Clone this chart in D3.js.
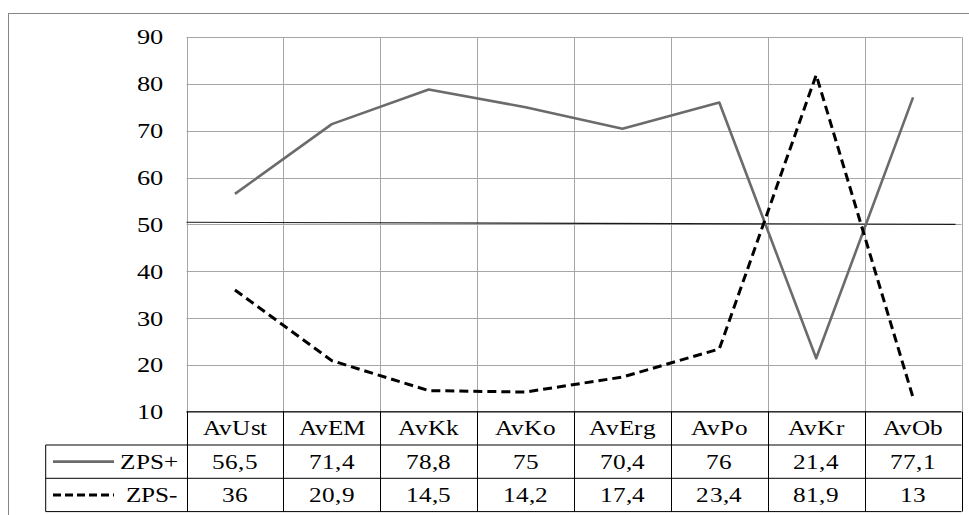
<!DOCTYPE html>
<html>
<head>
<meta charset="utf-8">
<script src="https://cdn.jsdelivr.net/npm/d3@7"></script>
<style>
  @font-face { font-family: "ChartSerif"; src: local("Liberation Serif"), local("LiberationSerif"), local("LiberationSerif-Regular"); }
</style>
</head>
<body style="margin:0">
<svg id="chart" width="969" height="515" font-family="ChartSerif, Liberation Serif"></svg>
<script>
const categories = ["AvUst", "AvEM", "AvKk", "AvKo", "AvErg", "AvPo", "AvKr", "AvOb"];
const seriesNames = ["ZPS+", "ZPS-"];
const zpsPlus = [56.5, 71.4, 78.8, 75, 70.4, 76, 21.4, 77.1];
const zpsMinus = [36, 20.9, 14.5, 14.2, 17.4, 23.4, 81.9, 13];
const yTicks = [10, 20, 30, 40, 50, 60, 70, 80, 90];
const refLineValues = [50.45, 50.0];

const FONT = "ChartSerif, Liberation Serif";
const SX = 1.2; // horizontal stretch of the text, as in the reference
const svg = d3.select("#chart").style("display", "block");
const W = 969, H = 515;
const plot = { left: 186.5, right: 961.5, top: 37, bottom: 411.7 };
const rowH = 33.3;
const legendLeft = 45.7;

svg.append("rect").attr("x", 8.5).attr("y", 13.5).attr("width", W + 10).attr("height", H + 10)
  .attr("fill", "none").attr("stroke", "#868686").attr("stroke-width", 1);

const x = d3.scaleBand().domain(categories).range([plot.left, plot.right]).padding(0);
const y = d3.scaleLinear().domain([10, 90]).range([plot.bottom, plot.top]);

const bounds = categories.map(c => x(c)).concat([plot.right]);
svg.selectAll("line.h").data(yTicks).join("line").attr("class", "h")
  .attr("x1", plot.left).attr("x2", plot.right)
  .attr("y1", d => Math.round(y(d)) + 0.5).attr("y2", d => Math.round(y(d)) + 0.5)
  .attr("stroke", "#a6a6a6").attr("stroke-width", 1);
svg.selectAll("line.v").data(bounds).join("line").attr("class", "v")
  .attr("x1", d => Math.round(d) + 0.5).attr("x2", d => Math.round(d) + 0.5)
  .attr("y1", plot.top).attr("y2", plot.bottom)
  .attr("stroke", "#a6a6a6").attr("stroke-width", 1);

function txt(sel, size) {
  return sel.attr("font-size", size).attr("fill", "#000")
    .attr("font-family", FONT).style("font-family", FONT);
}

txt(svg.selectAll("text.ytick").data(yTicks).join("text").attr("class", "ytick")
  .attr("transform", d => `translate(163,${y(d)}) scale(${SX},1)`).attr("dy", "0.34em")
  .attr("text-anchor", "end"), 22)
  .text(d => d);

svg.append("line")
  .attr("x1", plot.left).attr("x2", plot.right - 6)
  .attr("y1", y(refLineValues[0])).attr("y2", y(refLineValues[1]))
  .attr("stroke", "#1a1a1a").attr("stroke-width", 1.1);

const line = d3.line().x((d, i) => x(categories[i]) + x.bandwidth() / 2).y(d => y(d));
svg.append("path").datum(zpsPlus).attr("d", line)
  .attr("fill", "none").attr("stroke", "#6b6b6b").attr("stroke-width", 2.6)
  .attr("stroke-linejoin", "round");
svg.append("path").datum(zpsMinus).attr("d", line)
  .attr("fill", "none").attr("stroke", "#000").attr("stroke-width", 3)
  .attr("stroke-dasharray", "9,5");

const t0 = plot.bottom;
const rows = [t0, t0 + rowH, t0 + 2 * rowH, t0 + 3 * rowH];
svg.append("line").attr("x1", plot.left).attr("x2", plot.right).attr("y1", rows[0]).attr("y2", rows[0]).attr("stroke", "#000");
[1, 2, 3].forEach(k => {
  svg.append("line").attr("x1", legendLeft).attr("x2", plot.right).attr("y1", rows[k]).attr("y2", rows[k]).attr("stroke", "#000");
});
svg.selectAll("line.tv").data(bounds).join("line").attr("class", "tv")
  .attr("x1", d => Math.round(d) + 0.5).attr("x2", d => Math.round(d) + 0.5)
  .attr("y1", rows[0]).attr("y2", rows[3]).attr("stroke", "#000");
svg.append("line").attr("x1", legendLeft).attr("x2", legendLeft).attr("y1", rows[1]).attr("y2", rows[3]).attr("stroke", "#000");

txt(svg.selectAll("text.hdr").data(categories).join("text").attr("class", "hdr")
  .attr("transform", d => `translate(${x(d) + x.bandwidth() / 2},${rows[0] + rowH / 2 + 7}) scale(${SX},1)`)
  .attr("text-anchor", "middle"), 21)
  .text(d => d);

const seriesData = [zpsPlus, zpsMinus];
seriesData.forEach((vals, si) => {
  const cy = rows[si + 1] + rowH / 2;
  txt(svg.selectAll(`text.v${si}`).data(vals).join("text").attr("class", `v${si}`)
    .attr("transform", (d, i) => `translate(${x(categories[i]) + x.bandwidth() / 2},${cy + 7}) scale(${SX},1)`)
    .attr("text-anchor", "middle"), 21)
    .text(d => String(d).replace(".", ","));
  const key = svg.append("line").attr("x1", 53).attr("x2", 114).attr("y1", cy).attr("y2", cy);
  if (si === 0) key.attr("stroke", "#6b6b6b").attr("stroke-width", 2.6);
  else key.attr("stroke", "#000").attr("stroke-width", 3).attr("stroke-dasharray", "8,4");
  txt(svg.append("text").attr("transform", `translate(178,${cy + 7}) scale(${SX},1)`)
    .attr("text-anchor", "end"), 21)
    .text(seriesNames[si]);
});
</script>
</body>
</html>
